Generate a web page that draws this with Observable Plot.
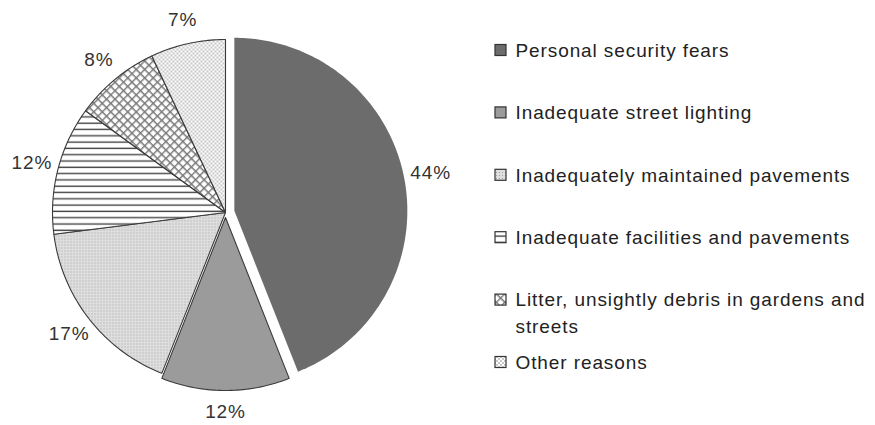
<!DOCTYPE html>
<html>
<head>
<meta charset="utf-8">
<script src="https://cdn.jsdelivr.net/npm/d3@7"></script>
<script src="https://cdn.jsdelivr.net/npm/@observablehq/plot@0.6"></script>
<style>
  html, body { margin: 0; padding: 0; background: #fff; }
  #chart svg { display: block; }
</style>
</head>
<body>
<div id="chart"></div>
<script>
// ---- data ----
const categories = [
  "Personal security fears",
  "Inadequate street lighting",
  "Inadequately maintained pavements",
  "Inadequate facilities and pavements",
  "Litter, unsightly debris in gardens and\nstreets",
  "Other reasons"
];
const values = [44, 12, 17, 12, 8, 7];
const valueLabels = ["44%", "12%", "17%", "12%", "8%", "7%"];

// ---- styling ----
const fills = ["#6c6c6c", "#9b9b9b", "url(#pMaint)", "url(#pFac)", "url(#pLit)", "url(#pOth)"];
const strokes = ["none", "#3a3a3a", "#3a3a3a", "#3a3a3a", "#3a3a3a", "#3a3a3a"];
const explode = [9, 5, 0, 0, 0, 0];

const W = 875, H = 425;
const cx = 225, cy = 212, R = 173, labelGap = 23;
const fontSize = 19;
const legendX = 495, legendTextX = 515, legendY0 = 50, legendStep = 62.4, box = 11;

// ---- geometry from data ----
const total = d3.sum(values);
let acc = 0;
const pts = [];
const labelRows = [];
values.forEach((v, i) => {
  const a0 = acc / total * 2 * Math.PI;
  acc += v;
  const a1 = acc / total * 2 * Math.PI;
  const mid = (a0 + a1) / 2;
  const ox = explode[i] * Math.sin(mid), oy = -explode[i] * Math.cos(mid);
  const ccx = cx + ox, ccy = cy + oy;
  pts.push({slice: i, x: ccx, y: ccy, fill: fills[i], stroke: strokes[i]});
  const n = Math.max(2, Math.ceil((a1 - a0) / (Math.PI / 180)));
  for (let k = 0; k <= n; k++) {
    const a = a0 + (a1 - a0) * k / n;
    pts.push({slice: i, x: ccx + R * Math.sin(a), y: ccy - R * Math.cos(a), fill: fills[i], stroke: strokes[i]});
  }
  // labels a bit further out on the left/right sides where the text is wide
  const rl = R + labelGap + 4 * Math.abs(Math.sin(mid)) - 2 * Math.abs(Math.cos(mid)) * (Math.cos(mid) < 0 ? 1 : 0);
  labelRows.push({
    x: ccx + rl * Math.sin(mid),
    y: ccy - rl * Math.cos(mid),
    text: valueLabels[i]
  });
});

const legendRows = categories.map((c, i) => {
  const yc = legendY0 + i * legendStep;
  return {
    text: c, fill: fills[i],
    x1: legendX, x2: legendX + box, y1: yc - box / 2, y2: yc + box / 2,
    tx: legendTextX, ty: yc - 0.68 * fontSize
  };
});

const plot = Plot.plot({
  width: W, height: H,
  margin: 0,
  x: {domain: [0, W], range: [0, W], axis: null},
  y: {domain: [0, H], range: [0, H], axis: null},
  color: {type: "identity"},
  style: {fontFamily: "'Liberation Sans', Arial, Helvetica, sans-serif", letterSpacing: "0.9px", background: "#fff"},
  marks: [
    Plot.line(pts, {x: "x", y: "y", z: "slice", fill: "fill", stroke: "stroke", strokeWidth: 1.1, curve: "linear-closed", strokeLinejoin: "round"}),
    Plot.text(labelRows, {x: "x", y: "y", text: "text", fontSize, fill: "#333"}),
    Plot.rect(legendRows, {x1: "x1", x2: "x2", y1: "y1", y2: "y2", fill: "fill", stroke: "#333", strokeWidth: 1.2}),
    Plot.text(legendRows, {x: "tx", y: "ty", text: "text", textAnchor: "start", lineAnchor: "top", lineHeight: 1.42, fontSize, fill: "#222"})
  ]
});

// pattern definitions
const ns = "http://www.w3.org/2000/svg";
const defs = document.createElementNS(ns, "defs");
defs.innerHTML = `
  <pattern id="pMaint" patternUnits="userSpaceOnUse" width="3" height="3">
    <rect width="3" height="3" fill="#dedede"/>
    <rect x="1" y="1" width="1" height="1" fill="#a0a0a0"/>
  </pattern>
  <pattern id="pFac" patternUnits="userSpaceOnUse" width="8" height="6.3">
    <rect width="8" height="6.3" fill="#fff"/>
    <line x1="0" x2="8" y1="3" y2="3" stroke="#444" stroke-width="1.4"/>
  </pattern>
  <pattern id="pLit" patternUnits="userSpaceOnUse" width="6" height="6" patternTransform="rotate(45)">
    <rect width="6" height="6" fill="#fff"/>
    <path d="M0 0.7H6M0.7 0V6" stroke="#777" stroke-width="1.4"/>
  </pattern>
  <pattern id="pOth" patternUnits="userSpaceOnUse" width="4" height="4">
    <rect width="4" height="4" fill="#fff"/>
    <circle cx="1" cy="1" r="0.7" fill="#6a6a6a"/>
    <circle cx="3" cy="3" r="0.7" fill="#6a6a6a"/>
  </pattern>`;
plot.insertBefore(defs, plot.firstChild);

document.getElementById("chart").appendChild(plot);
</script>
</body>
</html>
